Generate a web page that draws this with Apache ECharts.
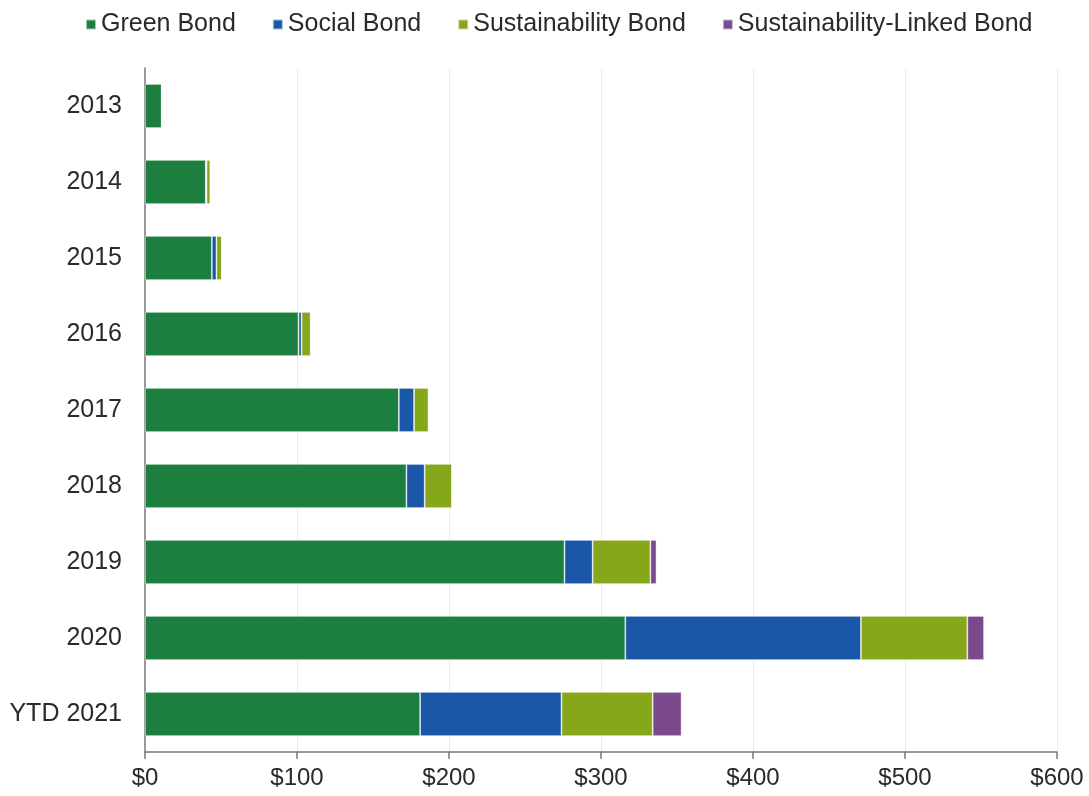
<!DOCTYPE html>
<html>
<head>
<meta charset="utf-8">
<script src="https://cdn.jsdelivr.net/npm/echarts@6/dist/echarts.min.js"></script>
<style>html,body{margin:0;padding:0;background:#fff}#c{width:1089px;height:796px}</style>
</head>
<body>
<div id="c"></div>
<script>
const categories = ['2013','2014','2015','2016','2017','2018','2019','2020','YTD 2021'];
const greenBond = [11, 40, 44, 101, 167, 172, 276, 316, 181];
const socialBond = [0, 0.5, 3, 2, 10, 12, 18.5, 155, 93];
const sustainabilityBond = [0, 2.5, 3.5, 6, 9.5, 18, 38, 70, 60];
const sustainabilityLinkedBond = [0, 0, 0, 0, 0, 0, 4, 11, 19];
const xTicks = [0, 100, 200, 300, 400, 500, 600];

const names = ['Green Bond','Social Bond','Sustainability Bond','Sustainability-Linked Bond'];
const colors = ['#1c7f40','#1a57a8','#86a71a','#7b4a8c'];
const datas = [greenBond, socialBond, sustainabilityBond, sustainabilityLinkedBond];

const chart = echarts.init(document.getElementById('c'), null, {renderer:'canvas'});
chart.setOption({
  animation: false,
  textStyle: {fontFamily: 'Liberation Sans, Arial, sans-serif'},
  legend: {
    top: 7, left: 80,
    icon: 'rect', itemWidth: 10, itemHeight: 10, itemGap: 36,
    textStyle: {fontSize: 25, color: '#2a2a2a'},
    data: names
  },
  grid: {left: 145, right: 32, top: 68, bottom: 44, containLabel: false},
  xAxis: {
    type: 'value', min: xTicks[0], max: xTicks[xTicks.length-1], interval: 100,
    axisLine: {show: true, lineStyle: {color: '#7a7a7a', width: 1.5}},
    axisTick: {show: true, length: 7, lineStyle: {color: '#7a7a7a', width: 1.5}},
    splitLine: {show: true, lineStyle: {color: '#ececec', width: 1}},
    axisLabel: {fontSize: 24, color: '#2a2a2a', margin: 14, formatter: v => '$' + v}
  },
  yAxis: {
    type: 'category', data: categories, inverse: true,
    axisLine: {show: true, lineStyle: {color: '#7a7a7a', width: 1.5}},
    axisTick: {show: false},
    axisLabel: {fontSize: 25, color: '#2a2a2a', margin: 23}
  },
  series: datas.map((d, i) => ({
    name: names[i], type: 'bar', stack: 'total', data: d,
    barCategoryGap: '42%',
    itemStyle: {color: colors[i], borderColor: 'rgba(255,255,255,0.6)', borderWidth: 0.8}
  }))
});
</script>
</body>
</html>
